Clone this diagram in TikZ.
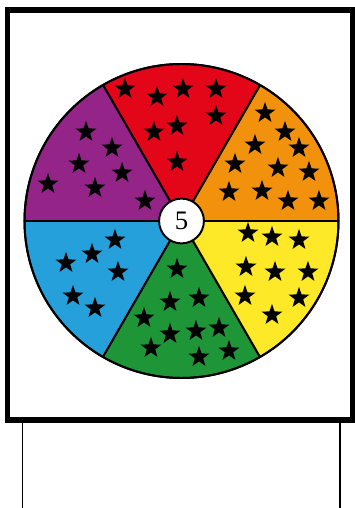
\documentclass[tikz,border=0pt]{standalone}
\usepackage{fontspec}
\setmainfont{Liberation Serif}
\usepackage{tikz}
\usetikzlibrary{shapes.geometric}
\definecolor{whlRed}{RGB}{227,6,25}
\definecolor{whlOrange}{RGB}{242,146,12}
\definecolor{whlYellow}{RGB}{253,233,40}
\definecolor{whlGreen}{RGB}{30,150,56}
\definecolor{whlBlue}{RGB}{38,160,218}
\definecolor{whlPurple}{RGB}{148,36,136}

\begin{document}
\begin{tikzpicture}[x=0.025cm, y=0.025cm,
  board/.style={draw=black, line width=3.8pt, fill=white},
  leg/.style={draw=black, line width=1.1pt},
  sector/.style={draw=black, line width=1.4pt, line join=round},
  hubnode/.style={circle, draw=black, line width=1.4pt, fill=white,
                  minimum size=1.12cm, inner sep=0pt,
                  font=\fontsize{19}{19}\selectfont},
  starmark/.style={star, star points=5, star point ratio=2.5,
                   fill=black, draw=none, inner sep=0pt, minimum size=0.55cm}
]
\useasboundingbox (0,0) rectangle (355,508);
%% Stand and board
\coordinate (L1) at (22.7,88);
\coordinate (L2) at (340,88);
\coordinate (F1) at (22.7,0);
\coordinate (F2) at (340,0);
\draw[leg] (L1) -- (F1);
\draw[leg] (L2) -- (F2);
\draw[board] (7.5,88) rectangle (352.5,498);
%% Wheel
\coordinate (C) at (181.5,287);
\filldraw[sector, fill=whlOrange] (C) -- ++(0:157) arc[start angle=0, end angle=60, radius=157] -- cycle;
\filldraw[sector, fill=whlRed] (C) -- ++(60:157) arc[start angle=60, end angle=120, radius=157] -- cycle;
\filldraw[sector, fill=whlPurple] (C) -- ++(120:157) arc[start angle=120, end angle=180, radius=157] -- cycle;
\filldraw[sector, fill=whlBlue] (C) -- ++(180:157) arc[start angle=180, end angle=240, radius=157] -- cycle;
\filldraw[sector, fill=whlGreen] (C) -- ++(240:157) arc[start angle=240, end angle=300, radius=157] -- cycle;
\filldraw[sector, fill=whlYellow] (C) -- ++(300:157) arc[start angle=300, end angle=360, radius=157] -- cycle;
\draw[sector] (C) circle[radius=157];
%% Red stars
\node[starmark] (r1) at (125,419) {};
\node[starmark] (r2) at (157,411) {};
\node[starmark] (r3) at (183,419) {};
\node[starmark] (r4) at (216,419) {};
\node[starmark] (r5) at (216,392) {};
\node[starmark] (r6) at (177,382) {};
\node[starmark] (r7) at (154,376) {};
\node[starmark] (r8) at (177,346) {};
%% Purple stars
\node[starmark] (p1) at (86,376) {};
\node[starmark] (p2) at (112,360) {};
\node[starmark] (p3) at (79,344) {};
\node[starmark] (p4) at (122,335) {};
\node[starmark] (p5) at (48,324) {};
\node[starmark] (p6) at (95,320) {};
\node[starmark] (p7) at (145,307) {};
%% Orange stars
\node[starmark] (o1) at (265,395) {};
\node[starmark] (o2) at (285,376) {};
\node[starmark] (o3) at (255,363) {};
\node[starmark] (o4) at (299,360) {};
\node[starmark] (o5) at (235,344) {};
\node[starmark] (o6) at (278,340) {};
\node[starmark] (o7) at (309,336) {};
\node[starmark] (o8) at (229,316) {};
\node[starmark] (o9) at (262,317) {};
\node[starmark] (o10) at (288,307) {};
\node[starmark] (o11) at (319,307) {};
%% Yellow stars
\node[starmark] (y1) at (248,275) {};
\node[starmark] (y2) at (272,271) {};
\node[starmark] (y3) at (299,268) {};
\node[starmark] (y4) at (246,241) {};
\node[starmark] (y5) at (275,236) {};
\node[starmark] (y6) at (308,236) {};
\node[starmark] (y7) at (245,212) {};
\node[starmark] (y8) at (299,210) {};
\node[starmark] (y9) at (272,193) {};
%% Blue stars
\node[starmark] (b1) at (115,268) {};
\node[starmark] (b2) at (92,254) {};
\node[starmark] (b3) at (66,245) {};
\node[starmark] (b4) at (118,236) {};
\node[starmark] (b5) at (73,212) {};
\node[starmark] (b6) at (95,200) {};
%% Green stars
\node[starmark] (g1) at (177,239) {};
\node[starmark] (g2) at (170,206) {};
\node[starmark] (g3) at (199,210) {};
\node[starmark] (g4) at (144,190) {};
\node[starmark] (g5) at (170,174) {};
\node[starmark] (g6) at (196,177) {};
\node[starmark] (g7) at (219,180) {};
\node[starmark] (g8) at (151,160) {};
\node[starmark] (g9) at (199,151) {};
\node[starmark] (g10) at (229,157) {};
%% Hub
\node[hubnode] (hub) at (C) {5};
\end{tikzpicture}
\end{document}
